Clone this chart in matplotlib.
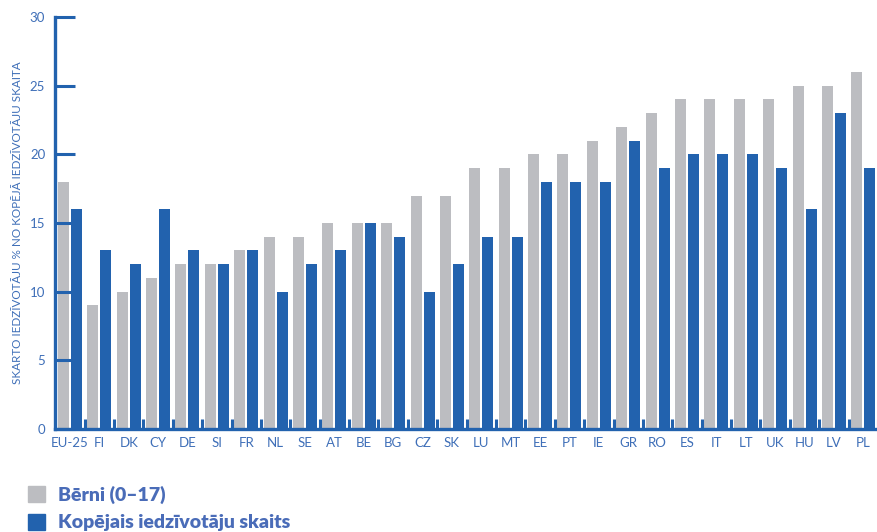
import matplotlib
matplotlib.use("Agg")
import matplotlib.pyplot as plt
import numpy as np
from matplotlib.patches import Rectangle

categories = ["EU-25", "FI", "DK", "CY", "DE", "SI", "FR", "NL", "SE", "AT", "BE", "BG", "CZ",
              "SK", "LU", "MT", "EE", "PT", "IE", "GR", "RO", "ES", "IT", "LT", "UK", "HU", "LV", "PL"]
children = [18, 9, 10, 11, 12, 12, 13, 14, 14, 15, 15, 15, 17,
            17, 19, 19, 20, 20, 21, 22, 23, 24, 24, 24, 24, 25, 25, 26]
total = [16, 13, 12, 16, 13, 12, 13, 10, 12, 13, 15, 14, 10,
         12, 14, 14, 18, 18, 18, 21, 19, 20, 20, 20, 19, 16, 23, 19]
series_names = ["Bērni (0–17)", "Kopējais iedzīvotāju skaits"]
y_label = "SKARTO IEDZĪVOTĀJU % NO KOPĒJĀ IEDZĪVOTĀJU SKAITA"
y_ticks = [0, 5, 10, 15, 20, 25, 30]

BLUE = "#2262ae"
GRAY = "#bcbdc1"
TXT = "#3f6fb8"
LEG = "#4a6cb8"

plt.rcParams['font.family'] = ['Lato', 'DejaVu Sans']

fig = plt.figure(figsize=(8.78, 5.32), dpi=100)
ax = fig.add_axes([0.0626, 0.1936, 0.9374, 0.7744])

x = np.arange(len(categories))
w = 0.374
ax.bar(x - 0.221, children, width=w, color=GRAY, zorder=1)
ax.bar(x + 0.221, total, width=w, color=BLUE, zorder=1)

ax.set_xlim(-0.51, 27.46)
ax.set_ylim(0, 30)

for s in ["top", "right"]:
    ax.spines[s].set_visible(False)
for s in ["left", "bottom"]:
    ax.spines[s].set_color(BLUE)
    ax.spines[s].set_linewidth(2.4)

ax.set_yticks(y_ticks)
ax.tick_params(axis="y", direction="in", length=14.5, width=2.2, color=BLUE,
               labelcolor=TXT, labelsize=9.5, pad=7)
ax.set_xticks(x)
ax.set_xticklabels(categories)
ax.tick_params(axis="x", which="major", length=0, labelcolor=TXT, labelsize=9.5, pad=6)
ax.set_xticks(x + 0.5, minor=True)
ax.tick_params(axis="x", which="minor", direction="in", length=7, width=2.2, color=BLUE)

ax.set_ylabel(y_label, color=TXT, fontsize=8.4, labelpad=5)

# legend
for i, (name, col) in enumerate(zip(series_names, [GRAY, BLUE])):
    yb = 532 - 502 - i * 27.5
    fig.patches.append(Rectangle((28 / 878, yb / 532), 17 / 878, 16 / 532,
                                 transform=fig.transFigure, color=col, figure=fig))
    fig.text(58 / 878, (yb + 7) / 532, name, color=LEG, fontsize=14,
             fontweight="heavy", va="center", ha="left")

fig.savefig("out.png", dpi=100)
